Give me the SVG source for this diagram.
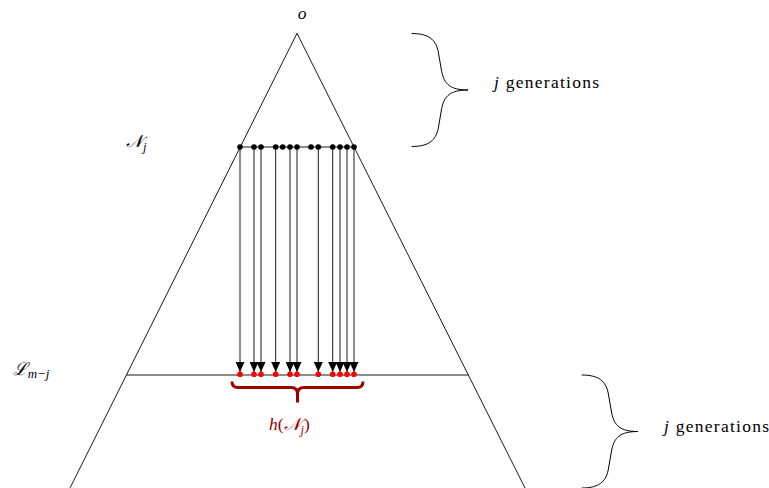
<svg xmlns="http://www.w3.org/2000/svg" width="769" height="488" viewBox="0 0 769 488">
  <style>
    .ln { fill: none; stroke: #000; stroke-width: 0.9; }
    .br { fill: none; stroke: #000; stroke-width: 1; }
    .rb { fill: none; stroke: #990000; stroke-width: 3; stroke-linejoin: round; }
    .bd { fill: #000; }
    .rd { fill: #ff0000; }
    text { font-family: 'Liberation Serif', 'DejaVu Serif', serif; font-size: 17.5px; fill: #000; }
    .m { font-style: italic; }
    .red { fill: #990000; }
  </style>
  <defs>
    <marker id="ah" markerUnits="userSpaceOnUse" viewBox="0 0 10 9" markerWidth="10" markerHeight="9" refX="10" refY="4.5" orient="auto">
      <path d="M0,0 L10,4.5 L0,9 Z" fill="#000"/>
    </marker>
    <path id="brace" d="M0,0 C17,0 24,6 26.5,18 L30,38 C32.5,50.5 38.5,56.5 56.3,56.5 C38.5,56.5 32.5,62.5 30,75 L26.5,95 C24,107 17,113 0,113"/>
  </defs>

  <g id="tree">
    <path class="ln" d="M70,488 L297,33.3 L525,488"/>
    <line class="ln" x1="240" y1="147" x2="354" y2="147"/>
    <line class="ln" x1="126.4" y1="375" x2="468.4" y2="375"/>
  </g>

  <g id="connectors">
    <line class="ln" x1="240" y1="147" x2="240" y2="372" marker-end="url(#ah)"/>
    <line class="ln" x1="254" y1="147" x2="254" y2="372" marker-end="url(#ah)"/>
    <line class="ln" x1="261" y1="147" x2="261" y2="372" marker-end="url(#ah)"/>
    <line class="ln" x1="275.7" y1="147" x2="275.7" y2="372" marker-end="url(#ah)"/>
    <line class="ln" x1="290" y1="147" x2="290" y2="372" marker-end="url(#ah)"/>
    <line class="ln" x1="297" y1="147" x2="297" y2="372" marker-end="url(#ah)"/>
    <line class="ln" x1="318.3" y1="147" x2="318.3" y2="372" marker-end="url(#ah)"/>
    <line class="ln" x1="332.7" y1="147" x2="332.7" y2="372" marker-end="url(#ah)"/>
    <line class="ln" x1="340" y1="147" x2="340" y2="372" marker-end="url(#ah)"/>
    <line class="ln" x1="347" y1="147" x2="347" y2="372" marker-end="url(#ah)"/>
    <line class="ln" x1="354" y1="147" x2="354" y2="372" marker-end="url(#ah)"/>
  </g>

  <g id="Nj-nodes">
    <g id="a1"><circle class="bd" cx="240" cy="147" r="2.8"/></g>
    <g id="a2"><circle class="bd" cx="254" cy="147" r="2.8"/></g>
    <g id="a3"><circle class="bd" cx="261" cy="147" r="2.8"/></g>
    <g id="a4"><circle class="bd" cx="275.7" cy="147" r="2.8"/></g>
    <g id="a5"><circle class="bd" cx="282.7" cy="147" r="2.8"/></g>
    <g id="a6"><circle class="bd" cx="290" cy="147" r="2.8"/></g>
    <g id="a7"><circle class="bd" cx="297" cy="147" r="2.8"/></g>
    <g id="a8"><circle class="bd" cx="311" cy="147" r="2.8"/></g>
    <g id="a9"><circle class="bd" cx="318.3" cy="147" r="2.8"/></g>
    <g id="a10"><circle class="bd" cx="332.7" cy="147" r="2.8"/></g>
    <g id="a11"><circle class="bd" cx="340" cy="147" r="2.8"/></g>
    <g id="a12"><circle class="bd" cx="347" cy="147" r="2.8"/></g>
    <g id="a13"><circle class="bd" cx="354" cy="147" r="2.8"/></g>
  </g>

  <g id="h-nodes">
    <g id="b1"><circle class="rd" cx="240" cy="374.3" r="2.8"/></g>
    <g id="b2"><circle class="rd" cx="254" cy="374.3" r="2.8"/></g>
    <g id="b3"><circle class="rd" cx="261" cy="374.3" r="2.8"/></g>
    <g id="b4"><circle class="rd" cx="275.7" cy="374.3" r="2.8"/></g>
    <g id="b5"><circle class="rd" cx="290" cy="374.3" r="2.8"/></g>
    <g id="b6"><circle class="rd" cx="297" cy="374.3" r="2.8"/></g>
    <g id="b7"><circle class="rd" cx="318.3" cy="374.3" r="2.8"/></g>
    <g id="b8"><circle class="rd" cx="332.7" cy="374.3" r="2.8"/></g>
    <g id="b9"><circle class="rd" cx="340" cy="374.3" r="2.8"/></g>
    <g id="b10"><circle class="rd" cx="347" cy="374.3" r="2.8"/></g>
    <g id="b11"><circle class="rd" cx="354" cy="374.3" r="2.8"/></g>
  </g>

  <g id="h-brace">
    <path class="rb" d="M232,381.5 Q232,387.5 238,387.5 L291,387.5 Q297.5,387.5 297.5,394 L297.5,402.5 M297.5,394 Q297.5,387.5 304,387.5 L357,387.5 Q363,387.5 363,381.5"/>
    <text class="red" x="269" y="430" font-family="Liberation Serif, serif"><tspan class="m">h</tspan>(<tspan class="m">𝒩</tspan><tspan class="m" font-size="12.5" dy="4">j</tspan><tspan dy="-4">)</tspan></text>
  </g>

  <g id="label-o"><text class="m" x="302" y="19" text-anchor="middle" font-family="Liberation Serif, serif">o</text></g>
  <g id="label-Nj"><text class="m" x="126" y="147" font-family="Liberation Serif, serif">𝒩<tspan font-size="12.5" dy="4">j</tspan></text></g>
  <g id="label-Lmj"><text class="m" x="12.7" y="375" font-family="Liberation Serif, serif">ℒ<tspan font-size="13" dy="3">m−j</tspan></text></g>

  <g id="brace-top">
    <use href="#brace" class="br" transform="translate(411.7,33.5)"/>
    <text x="494" y="88" textLength="105" lengthAdjust="spacing" font-family="Liberation Serif, serif"><tspan class="m">j</tspan> generations</text>
  </g>
  <g id="brace-bottom">
    <use href="#brace" class="br" transform="translate(581.7,375)"/>
    <text x="664" y="432" textLength="105" lengthAdjust="spacing" font-family="Liberation Serif, serif"><tspan class="m">j</tspan> generations</text>
  </g>
</svg>
